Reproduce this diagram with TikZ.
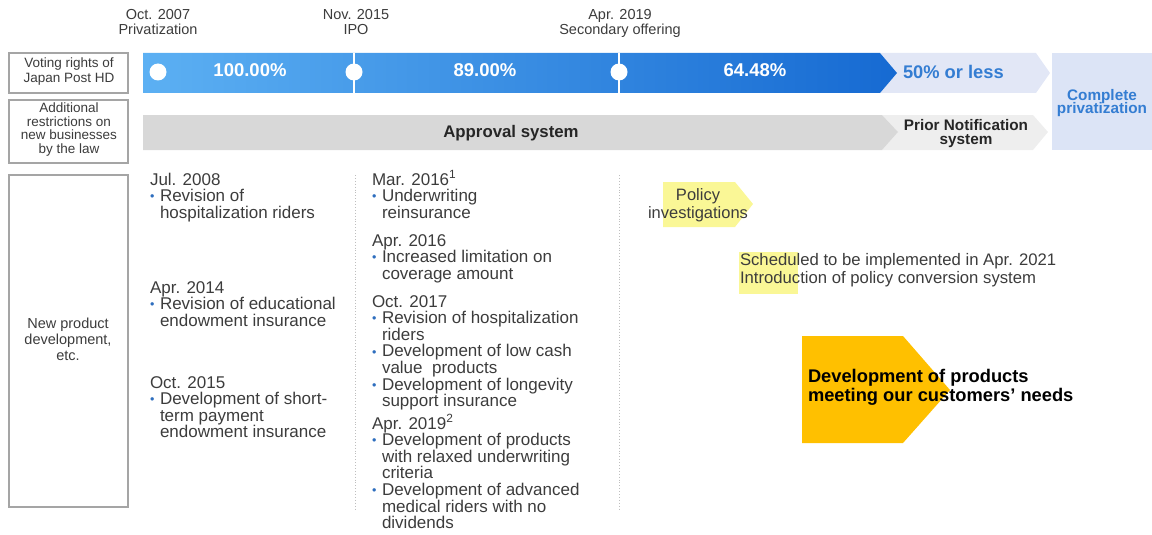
\documentclass[tikz,border=0pt]{standalone}
\usepackage{fontspec}
\setmainfont{Liberation Sans}

\definecolor{blueL}{RGB}{92,176,243}
\definecolor{blueR}{RGB}{22,106,210}
\definecolor{lav}{RGB}{226,231,246}
\definecolor{cpfill}{RGB}{220,228,246}
\definecolor{cptext}{RGB}{52,125,210}
\definecolor{barGray}{RGB}{216,216,216}
\definecolor{barLight}{RGB}{238,238,238}
\definecolor{hiYellow}{RGB}{250,247,150}
\definecolor{amber}{RGB}{255,192,0}
\definecolor{frame}{RGB}{165,165,165}
\definecolor{txt}{RGB}{60,60,60}
\definecolor{bulblue}{RGB}{46,110,190}
\definecolor{dotgray}{RGB}{190,190,190}

% stacked lines: the stack's baseline is the baseline of its first line
\newcommand\lstack[1]{\vtop{\lineskiplimit=-100pt\lineskip=0pt\halign{##\hfil\cr#1\crcr}}}
\newcommand\cstack[1]{\vtop{\lineskiplimit=-100pt\lineskip=0pt\halign{\hfil##\hfil\cr#1\crcr}}}
\newcommand\bul{\makebox[10pt][l]{\textcolor{bulblue}{\fontsize{12.5}{12}\selectfont\raisebox{0.8pt}{•}}}}
\newcommand\ind{\hspace*{10pt}}

\begin{document}
\begin{tikzpicture}[x=1pt,y=-1pt,
  every node/.style={inner sep=0pt,outer sep=0pt},
  sidebox/.style={draw=frame,line width=1.6pt,fill=white},
  sidetext/.style={text=txt,font=\fontsize{13.5}{14}\selectfont},
  milestone/.style={text=txt,font=\fontsize{14.5}{14.5}\selectfont},
  pct/.style={text=white,font=\bfseries\fontsize{18.5}{18}\selectfont},
  item/.style={text=txt,anchor=base west,font=\fontsize{17}{16.6}\selectfont},
  dot/.style={circle,fill=white,minimum size=17pt},
  divider/.style={draw=dotgray,line width=0.9pt,dotted}
]
\useasboundingbox (0,0) rectangle (1152,535);

% ---- row headers ----
\draw[sidebox] (9,53) rectangle (128,93);
\draw[sidebox] (9,100) rectangle (128,163);
\draw[sidebox] (9,175) rectangle (128,507);
\node[sidetext,anchor=base] (hvote) at (69,68) {\cstack{Voting rights of\cr Japan Post HD}};
\node[sidetext,anchor=base] (hlaw) at (69,112) {\cstack{Additional\cr restrictions on\cr new businesses\cr by the law}};
\node[sidetext,anchor=base,font=\fontsize{14.5}{16}\selectfont] (hnew) at (68,328) {\cstack{New product\cr development,\cr etc.}};

% ---- milestones ----
\node[milestone,anchor=base] (m1) at (158,20) {\cstack{Oct. 2007\cr Privatization}};
\node[milestone,anchor=base] (m2) at (356,20) {\cstack{Nov. 2015\cr IPO}};
\node[milestone,anchor=base] (m3) at (620,20) {\cstack{Apr. 2019\cr Secondary offering}};

% ---- voting rights bar ----
\fill[lav] (880,53) -- (1036,53) -- (1050,73) -- (1036,93) -- (880,93) -- (897,73) -- cycle;
\shade[left color=blueL,right color=blueR] (143,53) -- (880,53) -- (897,73) -- (880,93) -- (143,93) -- cycle;
\draw[white,line width=1.4pt] (354,53) -- (354,93);
\draw[white,line width=1.4pt] (619,53) -- (619,93);
\node[dot] (d1) at (158,72) {};
\node[dot] (d2) at (354,72) {};
\node[dot] (d3) at (619,72) {};
\node[pct,anchor=base] (p1) at (250,77) {100.00\%};
\node[pct,anchor=base] (p2) at (485,77) {89.00\%};
\node[pct,anchor=base] (p3) at (755,77) {64.48\%};
\node[anchor=base west,text=cptext,font=\bfseries\fontsize{18.3}{18}\selectfont] (p4) at (903,78) {50\% or less};

% ---- restrictions bar ----
\fill[barLight] (882,115) -- (1033,115) -- (1048,132) -- (1033,150) -- (882,150) -- (898,132) -- cycle;
\fill[barGray] (143,115) -- (882,115) -- (898,132) -- (882,150) -- (143,150) -- cycle;
\node[anchor=base,text=black!85,font=\bfseries\fontsize{16.8}{16}\selectfont] (appr) at (511,137) {Approval system};
\node[anchor=base,text=black!85,font=\bfseries\fontsize{15.3}{14}\selectfont] (prior) at (966,130) {\cstack{Prior Notification\cr system}};

% ---- complete privatization ----
\fill[cpfill] (1052,53) rectangle (1152,150);
\node[anchor=base,text=cptext,font=\bfseries\fontsize{15.3}{13.5}\selectfont] (cp) at (1102,100) {\cstack{Complete\cr privatization}};

% ---- column dividers ----
\draw[divider] (355,175) -- (355,511);
\draw[divider] (619,175) -- (619,511);

% ---- products, 2008-2015 ----
\node[item] (a1) at (150,185) {\lstack{Jul. 2008\cr \bul Revision of\cr \ind hospitalization riders}};
\node[item] (a2) at (150,293) {\lstack{Apr. 2014\cr \bul Revision of educational\cr \ind endowment insurance}};
\node[item] (a3) at (150,388) {\lstack{Oct. 2015\cr \bul Development of short-\cr \ind term payment\cr \ind endowment insurance}};

% ---- products, 2016-2019 ----
\node[item] (b1) at (372,185) {\lstack{Mar. 2016\textsuperscript{1}\cr \bul Underwriting\cr \ind reinsurance}};
\node[item] (b2) at (372,246) {\lstack{Apr. 2016\cr \bul Increased limitation on\cr \ind coverage amount}};
\node[item] (b3) at (372,307) {\lstack{Oct. 2017\cr \bul Revision of hospitalization\cr \ind riders\cr \bul Development of low cash\cr \ind value~ products\cr \bul Development of longevity\cr \ind support insurance}};
\node[item] (b4) at (372,429) {\lstack{Apr. 2019\textsuperscript{2}\cr \bul Development of products\cr \ind with relaxed underwriting\cr \ind criteria\cr \bul Development of advanced\cr \ind medical riders with no\cr \ind dividends}};

% ---- outlook ----
\fill[hiYellow] (663,182) -- (735,182) -- (753,204) -- (735,227) -- (663,227) -- cycle;
\node[anchor=base,text=txt,font=\fontsize{16.5}{18}\selectfont] (pol) at (698,200) {\cstack{Policy\cr investigations}};
\fill[hiYellow] (739,252) rectangle (798,294);
\node[item,font=\fontsize{16.7}{18}\selectfont] (conv) at (740,265) {\lstack{Scheduled to be implemented in Apr. 2021\cr Introduction of policy conversion system}};
\fill[amber] (802,336) -- (903,336) -- (950,390) -- (903,443) -- (802,443) -- cycle;
\node[anchor=base west,text=black,font=\bfseries\fontsize{18.3}{19}\selectfont] (needs) at (808,382) {\lstack{Development of products\cr meeting our customers’ needs}};
\end{tikzpicture}
\end{document}
